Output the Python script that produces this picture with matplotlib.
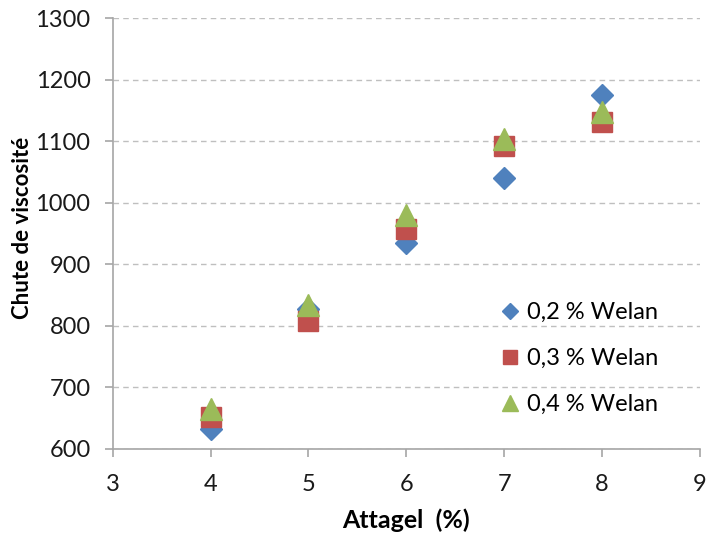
import matplotlib
matplotlib.use("Agg")
import matplotlib.pyplot as plt

# Attagel content (%) and viscosity drop for each Welan dosage
attagel = [4, 5, 6, 7, 8]
welan_02 = [633, 828, 935, 1040, 1176]
welan_03 = [652, 808, 957, 1093, 1132]
welan_04 = [665, 834, 980, 1104, 1148]
labels = ["0,2 % Welan", "0,3 % Welan", "0,4 % Welan"]

plt.rcParams['font.family'] = ['Lato', 'DejaVu Sans']

fig = plt.figure(figsize=(7.09, 5.37), dpi=100)
ax = fig.add_axes([0.159, 0.164, 0.828, 0.802])

ax.plot(attagel, welan_02, linestyle='none', marker='D', markersize=11,
        color='#4F81BD', label=labels[0], zorder=3)
ax.plot(attagel, welan_03, linestyle='none', marker='s', markersize=15,
        color='#C0504D', label=labels[1], zorder=4)
ax.plot(attagel, welan_04, linestyle='none', marker='^', markersize=16,
        color='#9BBB59', label=labels[2], zorder=5)

ax.set_xlim(3, 9)
ax.set_ylim(600, 1300)
ax.set_xticks(range(3, 10))
ax.set_yticks(range(600, 1301, 100))

ax.yaxis.grid(True, linestyle=(0, (4, 3)), color='#BFBFBF', linewidth=1)
ax.set_axisbelow(True)

for side in ['top', 'right']:
    ax.spines[side].set_visible(False)
for side in ['left', 'bottom']:
    ax.spines[side].set_color('#A6A6A6')
    ax.spines[side].set_linewidth(1.2)

ax.tick_params(axis='both', colors='#A6A6A6', length=6, width=1.2,
               labelsize=17, labelcolor='#1a1a1a')
ax.tick_params(axis='x', pad=12)
ax.tick_params(axis='y', pad=10)

ax.set_xlabel("Attagel  (%)", fontsize=18, fontweight='bold', labelpad=10)
ax.set_ylabel("Chute de viscosité", fontsize=16, fontweight='bold')
ax.yaxis.set_label_coords(-0.136, 0.513)

ax.legend(loc='upper left', bbox_to_anchor=(0.625, 0.39), frameon=False,
          fontsize=17, markerscale=0.7, handlelength=0.8,
          handletextpad=0.3, labelspacing=1.05)

fig.savefig("out.png", dpi=100)
